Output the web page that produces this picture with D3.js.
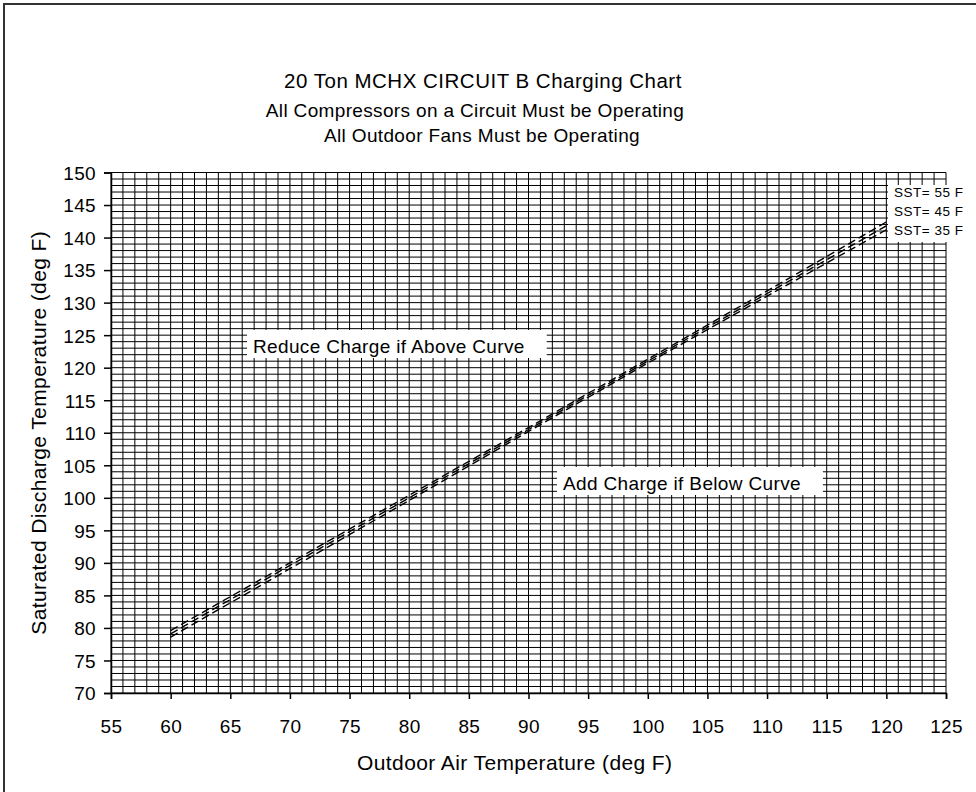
<!DOCTYPE html>
<html><head><meta charset="utf-8">
<script src="https://cdnjs.cloudflare.com/ajax/libs/d3/7.8.5/d3.min.js"></script>
<style>
html,body{margin:0;padding:0;background:#fff;}
svg{display:block;font-family:"Liberation Sans",Arial,sans-serif;}
</style></head><body>
<svg id="c" width="976" height="792"></svg>
<script>
const titleLines = ["20 Ton MCHX CIRCUIT B Charging Chart","All Compressors on a Circuit Must be Operating","All Outdoor Fans Must be Operating"];
const xTicks = [55,60,65,70,75,80,85,90,95,100,105,110,115,120,125];
const yTicks = [70,75,80,85,90,95,100,105,110,115,120,125,130,135,140,145,150];
const outdoorTemp = [60,70,80,90,100,110,120];
const sst55 = [79.6,90.0,100.4,110.8,121.3,131.8,142.4];
const sst45 = [79.1,89.6,100.0,110.5,121.0,131.4,141.8];
const sst35 = [78.6,89.1,99.6,110.2,120.7,131.0,141.2];
const seriesNames = ["SST= 55 F","SST= 45 F","SST= 35 F"];
const xLabel = "Outdoor Air Temperature (deg F)";
const yLabel = "Saturated Discharge Temperature (deg F)";
const aboveNote = "Reduce Charge if Above Curve";
const belowNote = "Add Charge if Below Curve";

const svg = d3.select("#c");
const x = d3.scaleLinear().domain([55,125]).range([111,946]);
const y = d3.scaleLinear().domain([70,150]).range([693,172.5]);
const LS = 0.35;

// outer border
svg.append("rect").attr("x",4).attr("y",4).attr("width",1200).attr("height",1200)
  .attr("fill","none").attr("stroke","#333").attr("stroke-width",2);

// title
const tt = svg.append("g").attr("text-anchor","middle").attr("fill","#000");
tt.append("text").attr("x",483).attr("y",88).attr("font-size",20.5).attr("letter-spacing",0.5).text(titleLines[0]);
tt.append("text").attr("x",475).attr("y",117).attr("font-size",19).attr("letter-spacing",LS).text(titleLines[1]);
tt.append("text").attr("x",482).attr("y",142).attr("font-size",19).attr("letter-spacing",LS).text(titleLines[2]);

// grid
const g = svg.append("g");
const minorX = d3.range(55,126,1), minorY = d3.range(70,151,1);
g.selectAll(".vx").data(minorX).join("line")
  .attr("x1",d=>x(d)).attr("x2",d=>x(d)).attr("y1",y(150)).attr("y2",y(70))
  .attr("stroke","#000").attr("stroke-width",1);
g.selectAll(".hy").data(minorY).join("line")
  .attr("y1",d=>y(d)).attr("y2",d=>y(d)).attr("x1",x(55)).attr("x2",x(125))
  .attr("stroke","#000").attr("stroke-width",1);

// axes
const xa = svg.append("g").attr("transform",`translate(0,${y(70)})`)
  .call(d3.axisBottom(x).tickValues(xTicks).tickSize(6).tickPadding(21).tickFormat(d3.format("d")));
const ya = svg.append("g").attr("transform",`translate(${x(55)},0)`)
  .call(d3.axisLeft(y).tickValues(yTicks).tickSize(7).tickPadding(8).tickFormat(d3.format("d")));
[xa,ya].forEach(a=>{
  a.select(".domain").attr("stroke","#000").attr("stroke-width",1.5);
  a.selectAll(".tick line").attr("stroke","#000").attr("stroke-width",1.5);
  a.selectAll("text").attr("font-size",19).attr("letter-spacing",LS).attr("fill","#000")
    .attr("font-family","Liberation Sans, Arial, sans-serif");
});
ya.selectAll("text").attr("dy","0.36em");

// notes
function note(tx, base, t){
  const bg = svg.append("rect").attr("fill","#fff");
  const te = svg.append("text").attr("x",tx).attr("y",base).attr("font-size",19)
    .attr("letter-spacing",LS).attr("fill","#000").text(t);
  const w = te.node().getComputedTextLength();
  bg.attr("x",tx-6).attr("y",base-23).attr("width",w+28).attr("height",28);
}
note(253, 353, aboveNote);
note(563, 490, belowNote);

// lines
const line = d3.line().x((d,i)=>x(outdoorTemp[i])).y(d=>y(d));
[sst55,sst45,sst35].forEach(s=>{
  svg.append("path").datum(s).attr("d",line).attr("fill","none")
    .attr("stroke","#000").attr("stroke-width",1.4).attr("stroke-dasharray","8,4");
});

// series labels
svg.append("rect").attr("x",888).attr("y",185).attr("width",90).attr("height",57).attr("fill","#fff");
svg.selectAll(".sl").data(seriesNames).join("text")
  .attr("x",894).attr("y",(d,i)=>197+i*19).attr("font-size",13.5).attr("letter-spacing",0.5)
  .attr("fill","#000").text(d=>d);

// axis titles
svg.append("text").attr("x",357).attr("y",770).attr("font-size",21).attr("letter-spacing",0.4).text(xLabel);
svg.append("text").attr("transform",`translate(46,${(y(70)+y(150))/2}) rotate(-90)`)
  .attr("text-anchor","middle").attr("font-size",21).attr("letter-spacing",0.4).text(yLabel);
</script>
</body></html>
